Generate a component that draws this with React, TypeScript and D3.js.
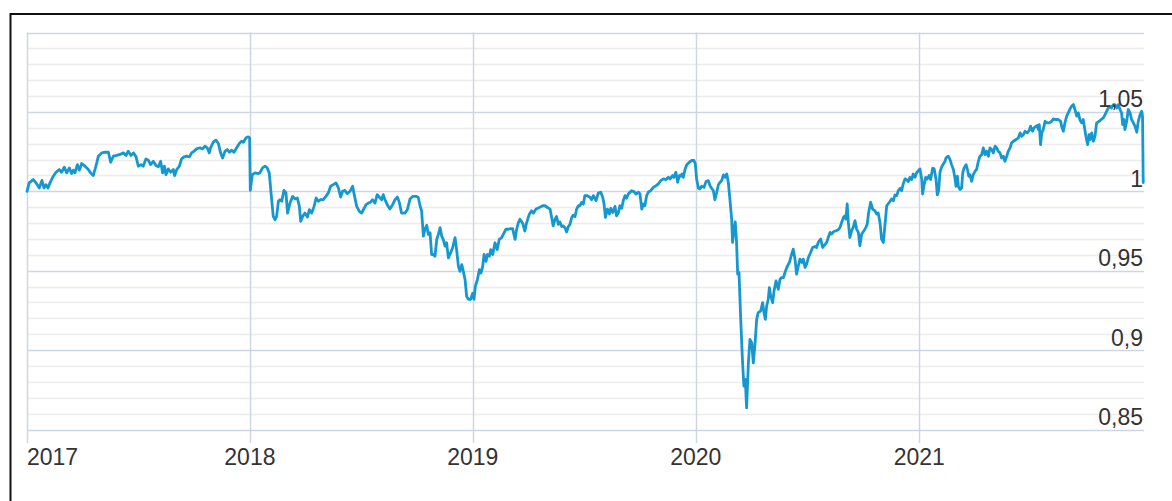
import React from "react";
import * as d3 from "d3";

// Decimal year -> index value
const SERIES_2017: [number, number][] = [
  [2017.0, 1.0], [2017.01, 1.0053], [2017.028, 1.0074], [2017.043, 1.0048], [2017.055, 1.0021], [2017.067, 1.0069],
  [2017.076, 1.0021], [2017.085, 1.0042], [2017.094, 1.0021], [2017.103, 1.0053], [2017.118, 1.0095], [2017.13, 1.012],
  [2017.145, 1.0137], [2017.155, 1.012], [2017.167, 1.0152], [2017.178, 1.0116], [2017.19, 1.0147], [2017.2, 1.0112],
  [2017.208, 1.0133], [2017.215, 1.0116], [2017.226, 1.0168], [2017.235, 1.0133], [2017.245, 1.0175], [2017.26, 1.0158],
  [2017.275, 1.0137], [2017.285, 1.0116], [2017.297, 1.0099], [2017.309, 1.0158], [2017.32, 1.0221], [2017.335, 1.0242],
  [2017.35, 1.0246], [2017.365, 1.0246], [2017.375, 1.0183], [2017.387, 1.0221], [2017.402, 1.0226], [2017.417, 1.0232],
  [2017.432, 1.0242], [2017.444, 1.0226], [2017.454, 1.0253], [2017.466, 1.0226], [2017.477, 1.0242], [2017.489, 1.0217],
  [2017.499, 1.0158], [2017.511, 1.0168], [2017.521, 1.0158], [2017.533, 1.0204], [2017.544, 1.0196], [2017.554, 1.0168],
  [2017.566, 1.0189], [2017.578, 1.0162], [2017.589, 1.0154], [2017.599, 1.0189], [2017.608, 1.0116], [2017.616, 1.0158],
  [2017.623, 1.0105], [2017.633, 1.0141], [2017.644, 1.012], [2017.656, 1.0137], [2017.662, 1.0099], [2017.671, 1.0137],
  [2017.683, 1.0158], [2017.693, 1.0204], [2017.704, 1.0217], [2017.716, 1.0221], [2017.728, 1.0217], [2017.738, 1.0242],
  [2017.749, 1.0253], [2017.76, 1.0267], [2017.775, 1.0274], [2017.787, 1.0267], [2017.798, 1.0284], [2017.808, 1.0274],
  [2017.817, 1.0242], [2017.823, 1.0274], [2017.835, 1.0309], [2017.847, 1.0322], [2017.858, 1.0301], [2017.868, 1.0242],
  [2017.877, 1.021], [2017.888, 1.0253], [2017.898, 1.0263], [2017.907, 1.0246], [2017.918, 1.0259], [2017.928, 1.0246],
  [2017.94, 1.0274], [2017.952, 1.0301], [2017.962, 1.0316], [2017.97, 1.0309], [2017.982, 1.0337], [2017.992, 1.0343],
  [2017.998, 1.0337],
];

const SERIES_2018: [number, number][] = [
  [2018.001, 1.0006], [2018.01, 1.0105], [2018.022, 1.0116], [2018.037, 1.0112], [2018.044, 1.0116], [2018.056, 1.0147],
  [2018.067, 1.0158], [2018.077, 1.0147], [2018.086, 1.0116], [2018.094, 0.999], [2018.104, 0.9842], [2018.112, 0.9821],
  [2018.119, 0.9842], [2018.127, 0.9937], [2018.134, 0.9947], [2018.142, 0.9937], [2018.152, 1.0006], [2018.161, 0.999],
  [2018.168, 0.9863], [2018.179, 0.9926], [2018.191, 0.9968], [2018.201, 0.9952], [2018.212, 0.9958], [2018.221, 0.9905],
  [2018.227, 0.9811], [2018.236, 0.9842], [2018.246, 0.9863], [2018.257, 0.9838], [2018.266, 0.9884], [2018.276, 0.9863],
  [2018.287, 0.9905], [2018.296, 0.9958], [2018.306, 0.9937], [2018.316, 0.9947], [2018.328, 0.9947], [2018.34, 0.9968],
  [2018.351, 0.999], [2018.361, 1.0032], [2018.373, 1.0042], [2018.385, 1.0053], [2018.396, 1.0021], [2018.406, 0.9964],
  [2018.415, 1.0], [2018.425, 1.0006], [2018.436, 0.9985], [2018.448, 1.0], [2018.46, 1.0032], [2018.467, 0.9979],
  [2018.478, 0.9905], [2018.49, 0.9874], [2018.5, 0.9863], [2018.508, 0.9884], [2018.52, 0.9916], [2018.53, 0.9926],
  [2018.54, 0.9931], [2018.549, 0.9947], [2018.56, 0.9926], [2018.57, 0.9979], [2018.579, 0.9964], [2018.59, 0.9947],
  [2018.597, 0.9979], [2018.605, 0.9947], [2018.615, 0.9916], [2018.627, 0.9889], [2018.639, 0.9916], [2018.65, 0.9947],
  [2018.66, 0.9964], [2018.669, 0.9931], [2018.679, 0.9863], [2018.694, 0.9863], [2018.705, 0.9884], [2018.717, 0.9951],
  [2018.729, 0.9968], [2018.744, 0.9968], [2018.754, 0.9962], [2018.762, 0.9909], [2018.769, 0.9877], [2018.777, 0.9718],
  [2018.784, 0.9761], [2018.792, 0.9786], [2018.799, 0.9729], [2018.807, 0.9739], [2018.814, 0.9602], [2018.822, 0.9602],
  [2018.829, 0.9591], [2018.837, 0.9697], [2018.844, 0.9729], [2018.852, 0.9771], [2018.859, 0.9718], [2018.866, 0.9697],
  [2018.874, 0.9655], [2018.881, 0.9676], [2018.889, 0.9581], [2018.896, 0.9602], [2018.908, 0.9644], [2018.919, 0.9708],
  [2018.926, 0.9633], [2018.934, 0.9527], [2018.941, 0.9496], [2018.949, 0.9538], [2018.956, 0.9496], [2018.964, 0.9443],
  [2018.971, 0.9337], [2018.979, 0.932], [2018.989, 0.932], [2018.998, 0.9358],
];

const SERIES_2019: [number, number][] = [
  [2019.004, 0.932], [2019.01, 0.9401], [2019.019, 0.9443], [2019.028, 0.9506], [2019.035, 0.9485], [2019.043, 0.9527],
  [2019.049, 0.9602], [2019.058, 0.9559], [2019.064, 0.9602], [2019.073, 0.9591], [2019.079, 0.9633], [2019.088, 0.9602],
  [2019.098, 0.9676], [2019.108, 0.9633], [2019.117, 0.9697], [2019.128, 0.9708], [2019.135, 0.9729], [2019.147, 0.9761],
  [2019.158, 0.9761], [2019.168, 0.9765], [2019.177, 0.9765], [2019.188, 0.9697], [2019.195, 0.9761], [2019.203, 0.9803],
  [2019.21, 0.9824], [2019.222, 0.9799], [2019.232, 0.975], [2019.24, 0.9803], [2019.252, 0.9856], [2019.262, 0.9877],
  [2019.27, 0.9862], [2019.282, 0.9888], [2019.297, 0.9898], [2019.312, 0.9909], [2019.322, 0.9909], [2019.333, 0.9898],
  [2019.345, 0.9888], [2019.352, 0.9835], [2019.359, 0.9782], [2019.367, 0.9824], [2019.374, 0.9841], [2019.382, 0.9792],
  [2019.389, 0.9807], [2019.397, 0.9778], [2019.404, 0.9782], [2019.412, 0.9771], [2019.419, 0.9744], [2019.427, 0.9778],
  [2019.434, 0.9792], [2019.442, 0.9835], [2019.449, 0.985], [2019.457, 0.9841], [2019.464, 0.9888], [2019.472, 0.9909],
  [2019.479, 0.9909], [2019.486, 0.993], [2019.494, 0.992], [2019.501, 0.9973], [2019.509, 0.9973], [2019.524, 0.9962],
  [2019.531, 0.9947], [2019.539, 0.9973], [2019.551, 0.9941], [2019.561, 0.9989], [2019.572, 0.9994], [2019.581, 0.9962],
  [2019.587, 0.992], [2019.593, 0.9836], [2019.602, 0.9888], [2019.611, 0.9857], [2019.617, 0.9893], [2019.626, 0.9867],
  [2019.636, 0.9905], [2019.643, 0.9846], [2019.651, 0.9863], [2019.658, 0.9909], [2019.666, 0.9893], [2019.673, 0.9941],
  [2019.681, 0.9973], [2019.688, 0.9956], [2019.696, 0.9983], [2019.703, 0.9994], [2019.711, 1.0004], [2019.721, 0.9998],
  [2019.73, 0.9983], [2019.741, 0.9994], [2019.748, 0.9983], [2019.756, 0.9888], [2019.763, 0.992], [2019.77, 0.9909],
  [2019.778, 0.9973], [2019.785, 0.9994], [2019.796, 1.0004], [2019.808, 1.0025], [2019.82, 1.0036], [2019.83, 1.0046],
  [2019.841, 1.0067], [2019.853, 1.0078], [2019.865, 1.0074], [2019.875, 1.0088], [2019.883, 1.0078], [2019.894, 1.0099],
  [2019.9, 1.0088], [2019.909, 1.012], [2019.917, 1.0057], [2019.924, 1.0099], [2019.93, 1.0095], [2019.936, 1.0109],
  [2019.942, 1.0088], [2019.95, 1.0137], [2019.957, 1.0166], [2019.969, 1.0183], [2019.98, 1.0194], [2019.99, 1.0194],
  [2019.996, 1.0173],
];

const SERIES_2020: [number, number][] = [
  [2020.002, 1.0078], [2020.01, 1.0019], [2020.017, 1.0015], [2020.024, 1.0032], [2020.035, 1.0025], [2020.044, 1.0061],
  [2020.054, 1.0067], [2020.062, 1.0036], [2020.069, 1.0019], [2020.077, 1.0004], [2020.084, 0.9947], [2020.092, 0.9994],
  [2020.099, 1.004], [2020.107, 1.0057], [2020.114, 1.0067], [2020.122, 1.0103], [2020.129, 1.0088], [2020.137, 1.0109],
  [2020.144, 1.0057], [2020.151, 0.9952], [2020.159, 0.9825], [2020.163, 0.9678], [2020.169, 0.9752], [2020.175, 0.9808],
  [2020.181, 0.9678], [2020.186, 0.9478], [2020.192, 0.9488], [2020.199, 0.9215], [2020.204, 0.9046], [2020.208, 0.892],
  [2020.214, 0.8773], [2020.22, 0.8815], [2020.226, 0.8636], [2020.234, 0.892], [2020.241, 0.9068], [2020.249, 0.9046],
  [2020.256, 0.892], [2020.264, 0.9046], [2020.271, 0.9194], [2020.278, 0.9236], [2020.289, 0.9246], [2020.298, 0.9299],
  [2020.304, 0.9236], [2020.31, 0.9194], [2020.316, 0.9278], [2020.323, 0.932], [2020.328, 0.9394], [2020.334, 0.9341],
  [2020.343, 0.9299], [2020.349, 0.9373], [2020.358, 0.9436], [2020.368, 0.9383], [2020.376, 0.9446], [2020.383, 0.9457],
  [2020.391, 0.9457], [2020.398, 0.9488], [2020.406, 0.952], [2020.418, 0.9552], [2020.428, 0.9604], [2020.435, 0.9636],
  [2020.443, 0.9573], [2020.45, 0.9478], [2020.458, 0.9531], [2020.465, 0.9573], [2020.473, 0.9552], [2020.48, 0.9573],
  [2020.488, 0.952], [2020.495, 0.9541], [2020.503, 0.9583], [2020.513, 0.9615], [2020.522, 0.9646], [2020.533, 0.9653],
  [2020.54, 0.9646], [2020.548, 0.9682], [2020.558, 0.9699], [2020.567, 0.9646], [2020.573, 0.9657], [2020.585, 0.9678],
  [2020.592, 0.9709], [2020.6, 0.9741], [2020.607, 0.9731], [2020.615, 0.9745], [2020.627, 0.9752], [2020.637, 0.9758],
  [2020.645, 0.9773], [2020.652, 0.9804], [2020.66, 0.9836], [2020.667, 0.9846], [2020.671, 0.9825], [2020.677, 0.992],
  [2020.682, 0.9804], [2020.689, 0.9709], [2020.697, 0.9752], [2020.704, 0.9773], [2020.712, 0.9815], [2020.719, 0.9762],
  [2020.727, 0.9741], [2020.734, 0.9657], [2020.742, 0.9731], [2020.752, 0.9752], [2020.761, 0.9773], [2020.767, 0.9794],
  [2020.773, 0.9867], [2020.782, 0.9931], [2020.791, 0.9888], [2020.801, 0.9878], [2020.809, 0.9857], [2020.816, 0.9863],
  [2020.824, 0.9804], [2020.831, 0.9699], [2020.839, 0.9678], [2020.846, 0.9783], [2020.854, 0.9909], [2020.866, 0.9931],
  [2020.876, 0.9952], [2020.884, 0.9941], [2020.891, 0.9977], [2020.899, 0.9973], [2020.906, 1.0004], [2020.914, 1.0019],
  [2020.921, 1.0004], [2020.928, 1.0046], [2020.936, 1.0078], [2020.943, 1.0074], [2020.951, 1.0061], [2020.958, 1.0088],
  [2020.966, 1.0074], [2020.973, 1.0109], [2020.981, 1.0088], [2020.988, 1.0116], [2020.996, 1.013],
];

const SERIES_2021: [number, number][] = [
  [2021.003, 1.0141], [2021.011, 1.0078], [2021.015, 0.9983], [2021.021, 1.0036], [2021.029, 1.0088], [2021.036, 1.0078],
  [2021.044, 1.0099], [2021.051, 1.0074], [2021.06, 1.0145], [2021.067, 1.0141], [2021.075, 1.0078], [2021.081, 0.9977],
  [2021.087, 1.0004], [2021.093, 1.012], [2021.1, 1.0152], [2021.108, 1.0173], [2021.115, 1.0187], [2021.12, 1.021],
  [2021.13, 1.0221], [2021.138, 1.02], [2021.145, 1.0168], [2021.153, 1.0137], [2021.16, 1.0084], [2021.165, 1.0032],
  [2021.171, 1.0095], [2021.175, 1.0032], [2021.183, 1.0011], [2021.19, 1.0021], [2021.195, 1.0116], [2021.201, 1.0147],
  [2021.21, 1.0168], [2021.216, 1.0137], [2021.222, 1.0095], [2021.227, 1.0105], [2021.235, 1.0063], [2021.242, 1.0105],
  [2021.25, 1.0126], [2021.257, 1.0137], [2021.265, 1.0189], [2021.272, 1.0221], [2021.28, 1.0231], [2021.287, 1.0273],
  [2021.295, 1.0231], [2021.302, 1.0252], [2021.31, 1.0221], [2021.317, 1.0273], [2021.325, 1.0263], [2021.332, 1.0242],
  [2021.34, 1.0284], [2021.347, 1.0273], [2021.354, 1.0252], [2021.362, 1.0242], [2021.369, 1.021], [2021.377, 1.0221],
  [2021.384, 1.0189], [2021.392, 1.0221], [2021.399, 1.0252], [2021.407, 1.0273], [2021.414, 1.0305], [2021.422, 1.0315],
  [2021.434, 1.0326], [2021.444, 1.0336], [2021.452, 1.0368], [2021.459, 1.0347], [2021.467, 1.0357], [2021.474, 1.0378],
  [2021.484, 1.0368], [2021.493, 1.0384], [2021.499, 1.041], [2021.508, 1.0378], [2021.514, 1.0399], [2021.523, 1.041],
  [2021.529, 1.0414], [2021.534, 1.0389], [2021.538, 1.042], [2021.544, 1.0294], [2021.549, 1.0368], [2021.556, 1.0389],
  [2021.564, 1.0441], [2021.574, 1.0431], [2021.583, 1.0431], [2021.594, 1.0441], [2021.601, 1.0456], [2021.613, 1.0452],
  [2021.623, 1.0452], [2021.634, 1.0441], [2021.638, 1.041], [2021.646, 1.0378], [2021.653, 1.0431], [2021.661, 1.0473],
  [2021.668, 1.0494], [2021.676, 1.0519], [2021.683, 1.0535], [2021.691, 1.0546], [2021.698, 1.0515], [2021.706, 1.0473],
  [2021.713, 1.0494], [2021.721, 1.0447], [2021.728, 1.0431], [2021.735, 1.0452], [2021.74, 1.041], [2021.747, 1.0347],
  [2021.755, 1.0294], [2021.761, 1.0357], [2021.765, 1.0326], [2021.773, 1.0368], [2021.78, 1.0315], [2021.788, 1.0347],
  [2021.795, 1.0431], [2021.807, 1.0441], [2021.818, 1.0456], [2021.825, 1.0462], [2021.833, 1.0483], [2021.84, 1.0504],
  [2021.848, 1.0525], [2021.855, 1.0535], [2021.862, 1.0525], [2021.87, 1.0546], [2021.877, 1.0546], [2021.885, 1.0525],
  [2021.892, 1.0546], [2021.9, 1.0515], [2021.907, 1.0494], [2021.912, 1.042], [2021.918, 1.0452], [2021.922, 1.0389],
  [2021.93, 1.0441], [2021.937, 1.0515], [2021.945, 1.0494], [2021.952, 1.0452], [2021.96, 1.0431], [2021.967, 1.041],
  [2021.975, 1.0372], [2021.982, 1.0441], [2021.99, 1.0483], [2021.997, 1.0504], [2022.001, 1.0473], [2022.004, 1.0055],
];

const YEAR_TICKS = [2017, 2018, 2019, 2020, 2021];
const Y_MAJOR_TICKS = [0.85, 0.9, 0.95, 1, 1.05, 1.1];
const Y_LABEL_TICKS = [0.85, 0.9, 0.95, 1, 1.05];
const Y_DOMAIN: [number, number] = [0.85, 1.1];
const X_START = Date.UTC(2017, 0, 1);
const X_END = Date.UTC(2022, 0, 4);

const W = 1172;
const H = 501;
const LEFT = 27;
const RIGHT = 1144;
const TOP = 32.5;
const BOTTOM = 429.5;

const DAY = 864e5;
const toDate = (t: number) => new Date(X_START + (t - 2017) * 365.25 * DAY);

export default function App() {
  const data = [...SERIES_2017, ...SERIES_2018, ...SERIES_2019, ...SERIES_2020, ...SERIES_2021];
  const x = d3.scaleUtc().domain([new Date(X_START), new Date(X_END)]).range([LEFT, RIGHT]);
  const y = d3.scaleLinear().domain(Y_DOMAIN).range([BOTTOM, TOP]);
  const line = d3
    .line<[number, number]>()
    .x((d) => x(toDate(d[0])))
    .y((d) => y(d[1]));

  const minorTicks = d3.range(86, 110).map((i) => i / 100).filter((v) => Math.abs(v * 20 - Math.round(v * 20)) > 1e-6);
  const fmt = (v: number) => String(+v.toFixed(2)).replace(".", ",");
  const font = "'Liberation Sans', Arial, Helvetica, sans-serif";

  return (
    <svg
      width={W}
      height={H}
      style={{ position: "fixed", left: 0, top: 0, display: "block", background: "#fff" }}
    >
      <rect x={0} y={0} width={W} height={H} fill="#fff" />
      {/* outer frame */}
      <line x1={10.5} x2={W} y1={14} y2={14} stroke="#111" strokeWidth={2} />
      <line x1={10.5} x2={10.5} y1={13} y2={H} stroke="#111" strokeWidth={2} />

      {/* minor grid */}
      {minorTicks.map((v) => (
        <line key={"m" + v} x1={LEFT} x2={RIGHT} y1={Math.round(y(v)) + 0.5} y2={Math.round(y(v)) + 0.5} stroke="#ececec" strokeWidth={1.5} />
      ))}
      {/* major grid */}
      {Y_MAJOR_TICKS.map((v) => (
        <line key={"M" + v} x1={LEFT} x2={RIGHT} y1={Math.round(y(v)) + 0.5} y2={Math.round(y(v)) + 0.5} stroke="#cdd6e6" strokeWidth={1.5} />
      ))}
      {/* year grid lines + ticks */}
      {YEAR_TICKS.map((yr) => {
        const xx = Math.round(x(new Date(Date.UTC(yr, 0, 1)))) + 0.5;
        return <line key={"v" + yr} x1={xx} x2={xx} y1={TOP} y2={443} stroke="#cdd6e6" strokeWidth={1.5} />;
      })}

      {/* series */}
      <path d={line(data) || ""} fill="none" stroke="#1598cf" strokeWidth={2.8} strokeLinejoin="round" strokeLinecap="round" />

      {/* y labels */}
      {Y_LABEL_TICKS.map((v) => (
        <text key={"yl" + v} x={1143} y={y(v) - 4.5} textAnchor="end" fontFamily={font} fontSize={23} fill="#333">
          {fmt(v)}
        </text>
      ))}
      {/* x labels */}
      {YEAR_TICKS.map((yr, i) => {
        const xx = x(new Date(Date.UTC(yr, 0, 1)));
        return (
          <text key={"xl" + yr} x={xx} y={465} textAnchor={i === 0 ? "start" : "middle"} fontFamily={font} fontSize={23} fill="#333">
            {yr}
          </text>
        );
      })}
    </svg>
  );
}
